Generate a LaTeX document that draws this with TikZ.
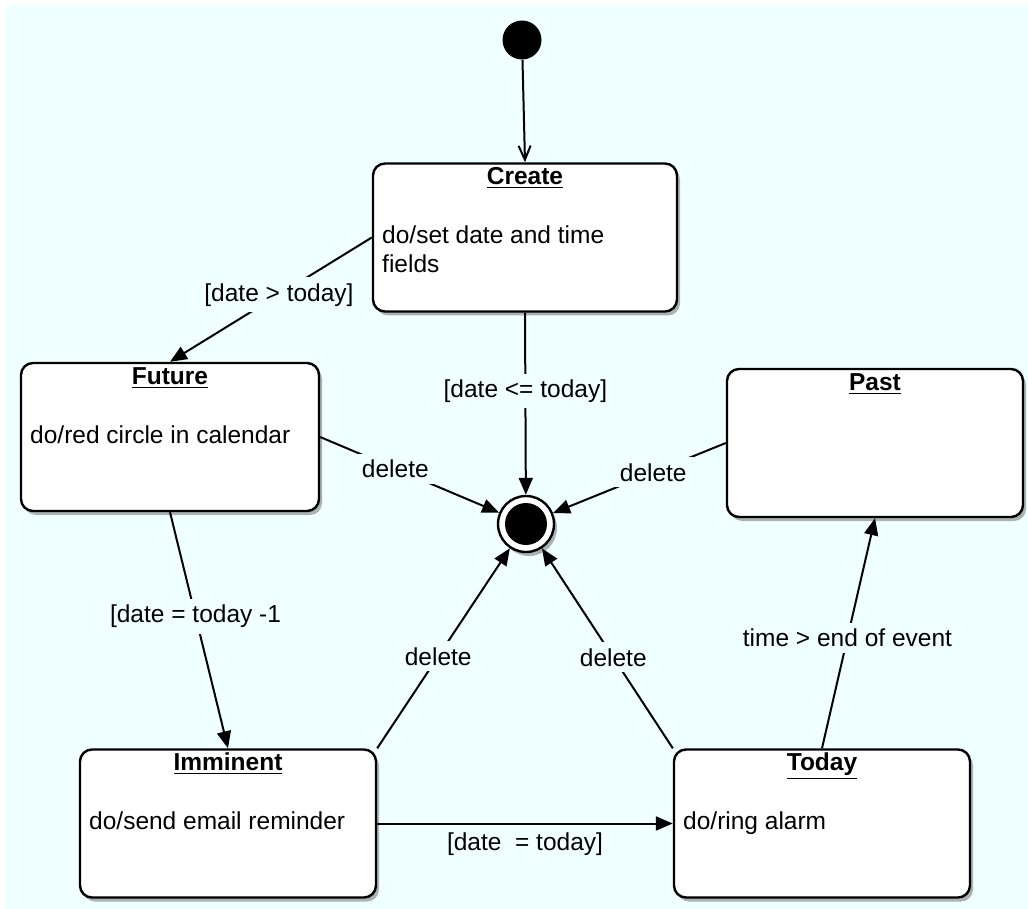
\documentclass[tikz,border=0pt]{standalone}
\usepackage{fontspec}
\setmainfont{Liberation Sans}
\usetikzlibrary{arrows.meta,shadows}
\definecolor{bgcyan}{RGB}{240,255,255}
\tikzset{
  statebox/.style={draw, line width=1.2pt, rounded corners=6pt, fill=white,
    minimum height=74pt, inner sep=0pt,
    drop shadow={shadow xshift=1.5pt, shadow yshift=-2pt, fill=black!60}},
  statetitle/.style={font=\bfseries, inner sep=0pt},
  statebody/.style={align=left, inner sep=0pt, anchor=north west},
  flow/.style={line width=1pt, -{Triangle[length=8.5pt,width=7pt]}},
  lbl/.style={fill=bgcyan, inner sep=3pt},
}
\begin{document}
\fontsize{12.25}{14.5}\selectfont
\begin{tikzpicture}[x=0.5pt, y=-0.5pt]
    \useasboundingbox (0,0) rectangle (1028,909);
    \fill[bgcyan] (5,5) rectangle (1028,909);
    % states
    \foreach \n/\x/\y/\w/\t in {create/525/237.5/152/Create,
        future/170/437/149/Future, past/875/443/148/Past,
        imminent/228/823.5/148/Imminent, today/822/823.5/148/Today}{%
      \node[statebox, minimum width=\w pt] (\n) at (\x,\y) {};
      \node[statetitle, anchor=base] (\n-title) at ([yshift=-11.25pt]\n.north) {\underline{\t}};
    }
    \foreach \n/\t in {create/{do/set date and time\\fields},
        future/{do/red circle in calendar}, imminent/{do/send email reminder},
        today/{do/ring alarm}}{%
      \node[statebody] (\n-body) at ([shift={(5pt,-31.75pt)}]\n.north west) {\t};
    }
    % start and end
    \node[circle, fill=black, minimum size=19.5pt, inner sep=0pt] (init) at (522,40) {};
    \node[circle, draw, line width=1.2pt, fill=white, minimum size=28pt, inner sep=0pt,
      drop shadow={shadow xshift=1.5pt, shadow yshift=-2pt, fill=black!60}] (final) at (526,524) {};
    \node[circle, fill=black, minimum size=21pt, inner sep=0pt] (final-dot) at (final.center) {};
    % transitions
    \draw[line width=1pt, -{Straight Barb[length=7pt,width=6pt]}] (init) -- (create.north);
    \draw[flow] (create.west) -- node[lbl, pos=0.46] (l-future) {[date > today]} (future.north);
    \draw[flow] (create.south) -- node[lbl, pos=0.43] (l-final) {[date <= today]} (final);
    \draw[flow] (future.east) -- node[lbl, pos=0.42] (l-fdel) {delete} (final);
    \draw[flow] (past.west) -- node[lbl, pos=0.42] (l-pdel) {delete} (final);
    \draw[flow] (future.south) -- node[lbl, pos=0.44] (l-imminent) {[date = today -1} (imminent.north);
    \draw[flow] (imminent.north east) -- node[lbl, pos=0.46] (l-idel) {delete} (final);
    \draw[flow] (today.north west) -- node[lbl, pos=0.455] (l-tdel) {delete} (final);
    \draw[flow] (today.north) -- node[lbl, pos=0.48] (l-past) {time > end of event} (past.south);
    \draw[flow] (imminent.east) -- node[below=4pt, inner sep=0pt] (l-today) {[date~ = today]} (today.west);
\end{tikzpicture}
\end{document}
